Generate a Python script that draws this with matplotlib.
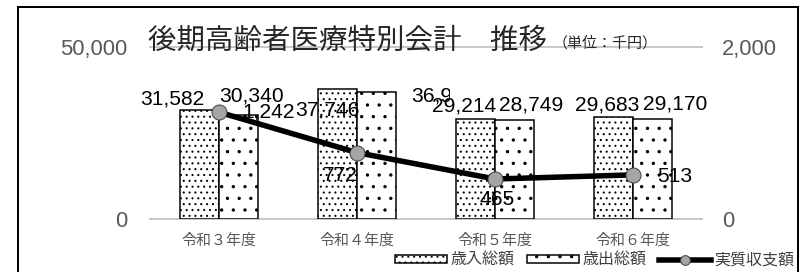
import matplotlib
matplotlib.use('Agg')
import matplotlib.pyplot as plt
from matplotlib.patches import Rectangle
from matplotlib.transforms import Bbox, TransformedBbox
import numpy as np

# ---- data ----
categories = ['令和３年度', '令和４年度', '令和５年度', '令和６年度']
revenue = [31582, 37746, 29214, 29683]       # 歳入総額
expenditure = [30340, 36974, 28749, 29170]   # 歳出総額
balance = [1242, 772, 465, 513]              # 実質収支額
series_names = ['歳入総額', '歳出総額', '実質収支額']
left_ticks = [0, 50000]
right_ticks = [0, 2000]
title_main = '後期高齢者医療特別会計　推移'
title_unit = '（単位：千円）'

# ---- label offsets (pixels) ----
rev_off = [(-27, 11), (-10, -21), (-11, 12.5), (-6, 12)]
exp_off = [(13, 18.6), (67, -4), (16, 15), (22, 14.7)]
bal_off = [(50, 0), (-17, -23), (2, -20), (42, -2)]

DPI = 70
W, H = 805, 272


def pt(px):
    return px * 72 / DPI


JP = ['Noto Sans CJK JP', 'DejaVu Sans']
NUM = ['Liberation Sans', 'DejaVu Sans']

plt.rcParams['hatch.linewidth'] = 1.0

fig = plt.figure(figsize=(W / DPI, H / DPI), dpi=DPI)
fig.patch.set_facecolor('white')
ax = fig.add_axes([150 / W, (H - 219) / H, 552 / W, 172 / H])
ax2 = ax.twinx()

x = np.arange(len(categories))
bw = 0.285
b1 = ax.bar(x - bw / 2, revenue, bw, facecolor='white', edgecolor='black',
            hatch='..', linewidth=pt(1.5), zorder=2)
b2 = ax.bar(x + bw / 2, expenditure, bw, facecolor='white', edgecolor='black',
            hatch='.', linewidth=pt(1.5), zorder=2)

ax.set_xlim(-0.5, len(categories) - 0.5)
ax.set_ylim(0, 50000)
ax.set_yticks(left_ticks)
ax.set_yticklabels([f'{v:,}' for v in left_ticks], fontfamily=NUM)
for v in left_ticks:
    ax.axhline(v, color='#c8c8c8', linewidth=pt(2), zorder=1, clip_on=False)
ax.set_xticks(x)
ax.set_xticklabels(categories, fontfamily=JP, fontsize=pt(15), color='#595959')
ax.tick_params(axis='x', length=0, pad=pt(14))
ax.tick_params(axis='y', length=0, pad=pt(23), labelsize=pt(22), labelcolor='#595959')
for s in ax.spines.values():
    s.set_visible(False)

ax2.set_ylim(0, 2000)
ax2.set_yticks(right_ticks)
ax2.set_yticklabels([f'{v:,}' for v in right_ticks], fontfamily=NUM)
ax2.tick_params(axis='y', length=0, pad=pt(20), labelsize=pt(22), labelcolor='#595959')
for s in ax2.spines.values():
    s.set_visible(False)

line, = ax2.plot(x, balance, color='black', lw=pt(5.5), marker='o', ms=pt(15),
                 mfc='#a5a5a5', mec='#404040', mew=pt(1), zorder=3)

lab_kw = dict(textcoords='offset pixels', ha='center', va='center',
              fontfamily=NUM, fontsize=pt(21), color='black')

for i, v in enumerate(revenue):
    ax.annotate(f'{v:,}', xy=(x[i] - bw / 2, v), xytext=rev_off[i], zorder=5, **lab_kw)

exp_texts = []
for i, v in enumerate(expenditure):
    t = ax.annotate(f'{v:,}', xy=(x[i] + bw / 2, v), xytext=exp_off[i], zorder=4, **lab_kw)
    exp_texts.append(t)
# the reference shows this label partly hidden by its neighbour
clip = TransformedBbox(Bbox.from_extents(-0.5, -1e5, 1.675, 1e5), ax.transData)
exp_texts[1].set_clip_box(clip)
exp_texts[1].set_clip_on(True)

for i, v in enumerate(balance):
    ax2.annotate(f'{v:,}', xy=(x[i], v), xytext=bal_off[i], zorder=5, **lab_kw)

fig.legend([b1, b2, line], series_names, loc='center left',
           bbox_to_anchor=(395 / W, 1 - 260 / H), ncol=3, frameon=False,
           prop={'family': JP, 'size': pt(16)}, labelcolor='#404040',
           handlelength=52 / 16, handleheight=7 / 16, handletextpad=3 / 16,
           columnspacing=13 / 16, borderpad=0, borderaxespad=0, markerscale=0.65)

fig.text(148 / W, 1 - 49 / H, title_main, fontfamily=JP, fontsize=pt(28.5),
         color='#262626', va='baseline', ha='left')
fig.text(553 / W, 1 - 48 / H, title_unit, fontfamily=JP, fontsize=pt(15),
         color='#262626', va='baseline', ha='left')

fig.add_artist(Rectangle((18 / W, -0.05), 780 / W, 1.05 - 7 / H,
                         transform=fig.transFigure, fill=False,
                         edgecolor='black', lw=pt(2)))

fig.savefig('out.png', dpi=DPI)
